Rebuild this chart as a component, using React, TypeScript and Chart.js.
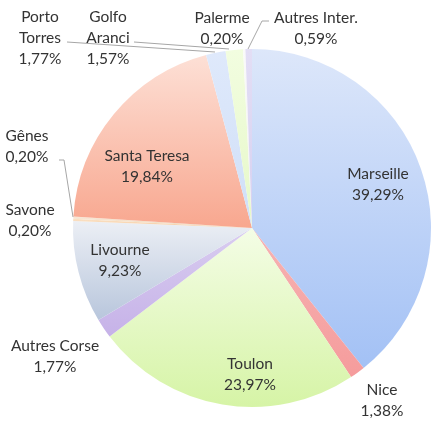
import React, { useEffect, useRef } from "react";
import { Chart, registerables } from "chart.js";

Chart.register(...registerables);

const categories = [
  "Marseille", "Nice", "Toulon", "Autres Corse", "Livourne", "Savone",
  "Gênes", "Santa Teresa", "Porto Torres", "Golfo Aranci", "Palerme", "Autres Inter.",
];
const values = [39.29, 1.38, 23.97, 1.77, 9.23, 0.2, 0.2, 19.84, 1.77, 1.57, 0.2, 0.59];
const valueLabels = ["39,29%", "1,38%", "23,97%", "1,77%", "9,23%", "0,20%", "0,20%", "19,84%", "1,77%", "1,57%", "0,20%", "0,59%"];
// label line breaks for names
const nameLines = [
  ["Marseille"], ["Nice"], ["Toulon"], ["Autres Corse"], ["Livourne"], ["Savone"],
  ["Gênes"], ["Santa Teresa"], ["Porto", "Torres"], ["Golfo", "Aranci"], ["Palerme"], ["Autres Inter."],
];
// gradient colors top -> bottom
const colorsTop = ["#dde7fa", "#f6b3b3", "#f4fde6", "#d9cdf0", "#eceff5", "#fbe3c8", "#f8e8d8", "#fde0d6", "#dfe9fb", "#f2fde0", "#fafafa", "#e3def5"];
const colorsBottom = ["#a3c1f5", "#f59c9c", "#d6f4a6", "#c6b2e8", "#b8c6dc", "#f5c89c", "#eed6b8", "#f8a78f", "#cfdff8", "#e6f8c8", "#f0f0f0", "#d6d0f0"];

// label placement (text block center) and optional leader line points
const labelPos: [number, number][] = [
  [378, 184], [382, 400], [250, 374], [55, 356], [120, 260], [30, 220],
  [27, 146], [147, 166], [40, 38], [108, 38], [222, 28], [316, 28],
];
const leaders: ([number, number][] | null)[] = [
  null, null, null, null, null, null,
  [[59, 160], [64, 160], [73, 217]],
  null,
  [[67, 42], [215, 52]],
  [[134, 42], [229, 49]],
  null,
  [[269, 21], [262, 21], [248, 49]],
];

function sliceGradient(ctx: any) {
  const chart = ctx.chart;
  const i = ctx.dataIndex;
  const area = chart.chartArea;
  if (!area || i === undefined) return colorsTop[i ?? 0];
  const cx = (area.left + area.right) / 2;
  const cy = (area.top + area.bottom) / 2;
  const r = Math.min(area.right - area.left, area.bottom - area.top) / 2;
  const total = values.reduce((a, b) => a + b, 0);
  let start = 0;
  for (let k = 0; k < i; k++) start += values[k];
  const a0 = -Math.PI / 2 + (start / total) * Math.PI * 2;
  const a1 = a0 + (values[i] / total) * Math.PI * 2;
  const ys = [cy, cy + r * Math.sin(a0), cy + r * Math.sin(a1)];
  const inRange = (a: number) => {
    for (let t = a - Math.PI * 4; t <= a1; t += Math.PI * 2) if (t >= a0 && t <= a1) return true;
    return false;
  };
  if (inRange(-Math.PI / 2)) ys.push(cy - r);
  if (inRange(Math.PI / 2)) ys.push(cy + r);
  const y0 = Math.min(...ys);
  const y1 = Math.max(...ys);
  const g = chart.ctx.createLinearGradient(0, y0, 0, y1 + 0.01);
  g.addColorStop(0, colorsTop[i]);
  g.addColorStop(1, colorsBottom[i]);
  return g;
}

const labelPlugin = {
  id: "sliceLabels",
  afterDraw(chart: any) {
    const c = chart.ctx;
    c.save();
    c.strokeStyle = "#a6a6a6";
    c.lineWidth = 1;
    leaders.forEach((pts) => {
      if (!pts) return;
      c.beginPath();
      pts.forEach((p, k) => (k === 0 ? c.moveTo(p[0], p[1]) : c.lineTo(p[0], p[1])));
      c.stroke();
    });
    c.fillStyle = "#333333";
    c.font = "15.5px Lato, 'Open Sans', sans-serif";
    c.textAlign = "center";
    c.textBaseline = "middle";
    const lh = 21;
    categories.forEach((_, i) => {
      const lines = [...nameLines[i], valueLabels[i]];
      const [x, y] = labelPos[i];
      const top = y - ((lines.length - 1) * lh) / 2;
      lines.forEach((t, k) => c.fillText(t, x, top + k * lh));
    });
    c.restore();
  },
};

export default function App() {
  const ref = useRef<HTMLCanvasElement>(null);
  useEffect(() => {
    if (!ref.current) return;
    const chart = new Chart(ref.current, {
      type: "pie",
      data: {
        labels: categories,
        datasets: [
          {
            data: values,
            backgroundColor: sliceGradient as any,
            borderWidth: 0,
          },
        ],
      },
      options: {
        animation: false,
        responsive: true,
        maintainAspectRatio: false,
        layout: { padding: { left: 73, right: 1, top: 49, bottom: 15 } },
        plugins: { legend: { display: false }, tooltip: { enabled: false } },
      },
      plugins: [labelPlugin],
    });
    return () => chart.destroy();
  }, []);
  return (
    <div style={{ position: "fixed", left: 0, top: 0, width: 432, height: 422, background: "#fff" }}>
      <canvas ref={ref} />
    </div>
  );
}
